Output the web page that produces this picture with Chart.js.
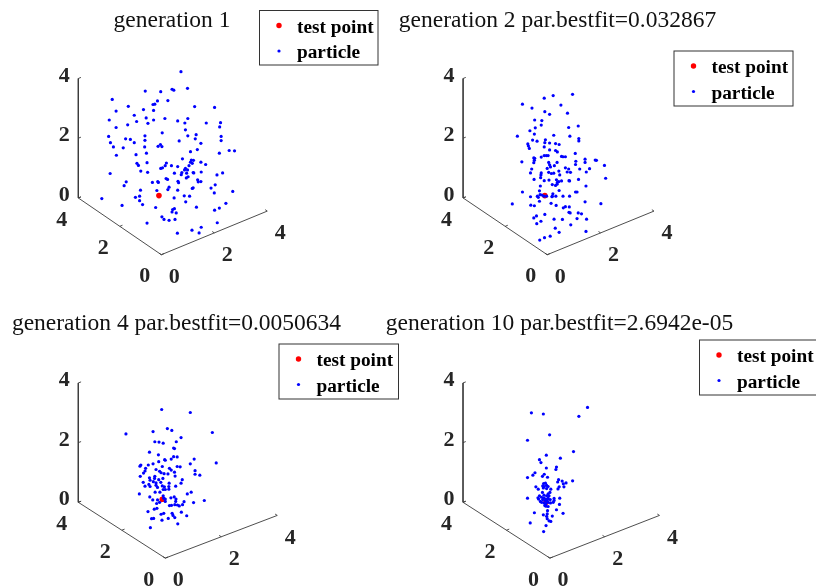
<!DOCTYPE html>
<html>
<head>
<meta charset="utf-8">
<title>particle generations</title>
<script src="https://cdn.jsdelivr.net/npm/chart.js@4"></script>
<style>
    html, body { margin: 0; padding: 0; background: #fff; width: 816px; height: 586px; overflow: hidden; }
    canvas { position: absolute; }
    #wrap { position: relative; width: 816px; height: 586px; overflow: hidden; }
</style>
</head>
<body>
<div id="wrap">
    <canvas id="gen1"></canvas>
    <canvas id="gen2"></canvas>
    <canvas id="gen4"></canvas>
    <canvas id="gen10"></canvas>
</div>
<script>
// Titles and axis labels
const gen1Title = 'generation 1';
const gen2Title = 'generation 2 par.bestfit=0.032867';
const gen4Title = 'generation 4 par.bestfit=0.0050634';
const gen10Title = 'generation 10 par.bestfit=2.6942e-05';
const axisTicks = [0, 2, 4];
const legendLabels = ['test point', 'particle'];

// Points, in projected axis units:
// [across from the vertical axis, height above its foot]
const gen1Test = [[2.71, 0.08]];
const gen1Particles = [
    [3.45,4.23],[3.67,3.67],[3.15,3.64],[3.21,3.61],[2.25,3.58],[2.77,3.56],[1.14,3.30],[2.66,3.25],[3.01,3.26],[2.57,3.14],
    [2.51,3.13],[1.68,3.07],[3.91,3.06],[4.58,3.03],[1.27,2.91],[2.19,2.96],[2.53,2.93],[1.88,2.77],[2.28,2.68],[3.68,2.66],
    [1.04,2.61],[2.53,2.61],[2.91,2.66],[3.34,2.58],[1.96,2.56],[2.34,2.50],[3.58,2.51],[4.30,2.51],[4.78,2.52],[4.75,2.38],
    [1.66,2.45],[1.27,2.36],[3.60,2.28],[2.82,2.18],[3.96,2.12],[3.68,2.08],[3.93,1.98],[4.80,2.06],[4.80,1.92],[1.02,2.06],
    [2.24,2.08],[1.59,1.98],[1.75,1.96],[2.24,1.93],[1.88,1.85],[1.08,1.85],[3.39,1.91],[4.12,1.83],[2.68,1.73],[2.76,1.79],
    [2.81,1.72],[2.23,1.71],[1.18,1.71],[1.51,1.68],[4.00,1.62],[5.07,1.59],[5.25,1.58],[4.74,1.50],[2.29,1.50],[3.77,1.55],
    [1.28,1.43],[1.94,1.45],[3.50,1.31],[3.80,1.27],[3.87,1.26],[3.77,1.20],[3.83,1.16],[2.31,1.18],[1.97,1.16],[2.02,1.09],
    [4.12,1.20],[4.28,1.12],[2.96,1.17],[2.92,1.08],[2.83,1.01],[2.77,0.99],[3.13,1.08],[3.34,1.05],[3.72,1.08],[3.60,0.99],
    [3.67,0.94],[3.57,0.94],[2.10,0.90],[2.33,0.86],[1.07,0.82],[3.23,0.83],[3.48,0.85],[3.46,0.78],[3.64,0.83],[3.86,0.85],
    [3.88,0.84],[4.13,0.87],[4.85,0.84],[4.66,0.77],[3.69,0.71],[3.63,0.67],[2.95,0.65],[3.00,0.62],[4.01,0.61],[4.03,0.54],
    [4.12,0.55],[3.35,0.56],[3.37,0.51],[1.61,0.54],[2.49,0.52],[2.67,0.55],[2.69,0.52],[1.54,0.41],[4.60,0.44],[3.05,0.36],
    [3.01,0.28],[2.64,0.25],[3.86,0.34],[3.83,0.32],[4.46,0.33],[2.09,0.26],[3.34,0.26],[5.19,0.22],[4.57,0.17],[2.06,0.06],
    [1.92,0.02],[3.56,0.07],[3.74,0.06],[3.22,0.00],[0.79,-0.02],[2.06,-0.09],[3.61,-0.13],[2.16,-0.22],[4.96,-0.18],[1.47,-0.25],
    [2.60,-0.32],[3.97,-0.31],[4.74,-0.34],[4.58,-0.41],[3.23,-0.36],[3.17,-0.39],[3.15,-0.47],[3.29,-0.50],[2.81,-0.63],[2.88,-0.72],
    [3.05,-0.75],[3.25,-0.72],[2.31,-0.84],[4.67,-0.83],[4.13,-0.98],[3.82,-1.08],[4.06,-1.17],[3.33,-1.18]
];

const gen2Test = [[2.74, 0.08]];
const gen2Particles = [
    [3.67,3.47],[3.02,3.43],[2.72,3.34],[1.99,3.14],[3.28,3.11],[2.31,3.01],[2.74,2.89],[2.90,2.80],[3.50,2.84],[2.40,2.61],
    [2.64,2.59],[2.62,2.44],[3.86,2.41],[2.42,2.35],[3.54,2.36],[2.24,2.25],[2.39,2.14],[1.82,2.07],[3.04,2.10],[3.58,2.07],
    [3.88,1.99],[3.88,1.91],[2.33,1.94],[2.48,1.90],[2.76,1.95],[2.74,1.85],[2.90,1.84],[2.17,1.81],[2.19,1.74],[2.22,1.66],
    [2.72,1.71],[3.10,1.82],[3.22,1.79],[2.90,1.61],[3.10,1.59],[3.16,1.54],[3.76,1.49],[2.72,1.42],[2.79,1.42],[2.85,1.42],
    [2.62,1.37],[3.30,1.39],[3.35,1.38],[3.43,1.38],[2.37,1.34],[2.40,1.33],[2.39,1.26],[2.37,1.18],[1.97,1.21],[4.09,1.30],
    [4.09,1.19],[3.78,1.23],[3.77,1.12],[4.43,1.27],[4.47,1.26],[4.74,1.09],[2.87,1.19],[2.90,1.11],[3.15,1.19],[3.06,1.08],
    [2.93,1.04],[2.82,0.99],[3.43,1.01],[3.54,0.97],[3.60,0.86],[3.49,0.87],[2.30,0.97],[2.26,0.84],[2.62,0.84],[2.61,0.77],
    [2.87,0.86],[2.96,0.82],[3.04,0.83],[3.21,0.90],[3.24,0.77],[3.91,0.97],[4.13,0.87],[4.24,0.98],[2.60,0.68],[2.38,0.62],
    [2.72,0.58],[2.88,0.60],[3.13,0.61],[3.21,0.55],[3.30,0.57],[3.16,0.52],[3.55,0.58],[3.57,0.57],[3.87,0.62],[4.78,0.66],
    [2.99,0.45],[3.10,0.42],[3.15,0.46],[2.59,0.40],[2.56,0.24],[4.12,0.40],[3.22,0.25],[1.99,0.20],[2.26,0.04],[2.58,0.11],
    [2.64,0.10],[2.49,0.06],[2.52,0.02],[2.56,-0.11],[2.71,0.06],[2.80,0.06],[2.99,0.06],[3.01,0.14],[2.98,0.04],[3.11,0.06],
    [3.35,0.06],[3.57,0.06],[3.77,0.20],[3.82,0.20],[2.27,-0.24],[2.39,-0.26],[2.95,-0.18],[3.12,-0.25],[1.65,-0.20],[4.09,-0.13],
    [4.62,-0.19],[3.43,-0.29],[3.36,-0.33],[3.56,-0.30],[3.55,-0.48],[3.59,-0.50],[3.86,-0.50],[3.97,-0.53],[2.74,-0.55],[2.37,-0.67],
    [2.46,-0.60],[2.61,-0.78],[2.47,-0.86],[3.05,-0.71],[3.33,-0.72],[3.82,-0.69],[4.14,-0.71],[3.61,-0.90],[3.09,-1.01],[3.22,-1.15],
    [4.12,-1.12],[2.92,-1.28],[2.73,-1.33],[2.57,-1.41]
];

const gen4Test = [[2.82, 0.10]];
const gen4Particles = [
    [2.80,3.11],[3.76,3.01],[4.50,2.34],[1.60,2.29],[2.99,2.47],[3.14,2.41],[2.51,2.37],[3.45,2.17],[3.29,2.03],[2.57,2.03],
    [2.71,2.02],[2.85,1.98],[3.20,1.82],[3.23,1.80],[2.39,1.68],[2.69,1.59],[3.20,1.53],[3.32,1.52],[3.12,1.45],[2.90,1.43],
    [2.92,1.41],[2.70,1.36],[3.89,1.45],[3.76,1.29],[4.63,1.32],[2.51,1.29],[2.35,1.25],[2.10,1.25],[2.07,1.21],[2.82,1.20],
    [3.32,1.20],[3.42,1.19],[3.06,1.14],[3.12,1.08],[2.26,1.14],[2.24,1.05],[2.61,1.10],[2.73,1.04],[2.78,0.99],[3.92,1.06],
    [3.92,0.94],[4.08,0.91],[2.19,0.98],[2.08,0.87],[2.57,0.87],[2.88,0.96],[3.01,0.95],[3.23,1.01],[3.25,0.88],[3.49,0.76],
    [2.39,0.82],[2.56,0.80],[2.41,0.74],[2.70,0.76],[2.84,0.80],[2.18,0.67],[2.52,0.69],[2.61,0.65],[2.77,0.67],[3.05,0.64],
    [3.45,0.64],[2.24,0.54],[2.37,0.60],[2.41,0.53],[2.61,0.57],[2.66,0.50],[2.82,0.55],[2.89,0.52],[3.04,0.53],[3.27,0.54],
    [2.85,0.43],[2.92,0.43],[3.04,0.44],[2.74,0.34],[2.58,0.34],[3.79,0.34],[3.66,0.28],[2.05,0.28],[2.40,0.18],[2.50,0.08],
    [2.66,0.08],[2.85,0.22],[2.87,0.14],[2.92,0.11],[2.92,0.03],[3.11,0.15],[3.22,0.18],[3.28,0.11],[3.27,0.03],[2.63,-0.04],
    [2.73,0.00],[3.87,-0.01],[4.23,0.06],[3.55,0.02],[3.50,-0.08],[3.06,-0.11],[3.13,-0.10],[3.24,-0.08],[3.33,-0.09],[3.39,-0.12],
    [2.64,-0.20],[2.55,-0.23],[2.34,-0.31],[2.78,-0.40],[2.87,-0.37],[3.15,-0.37],[3.18,-0.44],[3.46,-0.33],[3.64,-0.45],[3.24,-0.51],
    [3.02,-0.54],[2.81,-0.60],[2.53,-0.54],[2.46,-0.55],[3.34,-0.72],[2.42,-0.85]
];

const gen10Test = [[2.78, 0.00]];
const gen10Particles = [
    [4.17,3.18],[3.88,2.88],[2.29,3.00],[2.69,2.96],[2.90,2.26],[2.16,2.08],[3.70,1.70],[2.79,1.58],[3.26,1.48],[2.56,1.43],
    [2.61,1.33],[3.13,1.18],[3.11,1.10],[2.79,1.15],[2.41,0.99],[2.34,0.91],[2.16,0.83],[2.72,0.94],[2.66,0.87],[2.83,0.84],
    [3.20,0.76],[3.17,0.68],[3.32,0.71],[3.67,0.72],[3.45,0.65],[3.36,0.62],[3.38,0.52],[3.22,0.52],[3.18,0.45],[2.44,0.52],
    [2.52,0.44],[2.70,0.63],[2.76,0.64],[2.67,0.55],[2.72,0.53],[2.80,0.57],[2.85,0.53],[2.69,0.48],[2.80,0.46],[2.94,0.44],
    [2.91,0.33],[2.85,0.28],[2.80,0.22],[2.66,0.33],[2.71,0.24],[2.56,0.22],[2.51,0.15],[2.16,0.14],[2.53,0.11],[2.63,0.17],
    [2.71,0.14],[2.77,0.11],[2.85,0.14],[2.92,0.09],[3.05,0.13],[3.24,0.14],[2.59,0.03],[2.63,0.00],[2.71,-0.02],[2.77,-0.06],
    [2.85,0.00],[2.93,-0.02],[3.02,0.00],[3.05,0.06],[3.23,-0.07],[2.78,-0.13],[2.85,-0.14],[3.13,-0.25],[2.83,-0.28],[2.39,-0.35],
    [3.35,-0.37],[2.69,-0.42],[2.82,-0.39],[2.80,-0.47],[2.99,-0.46],[2.82,-0.55],[2.88,-0.62],[2.94,-0.64],[2.25,-0.69],[2.78,-0.78],
    [2.70,-0.98],[2.76,0.06],[2.80,0.02],[2.83,0.09],[2.88,0.22],[2.67,0.09],[2.74,-0.11]
];

// Projected corners of the floor for each panel (unit of height = 1 axis unit)
const gen1Corners = { front: [2.79, -1.90], right: [6.35, -0.44] };
const gen2Corners = { front: [2.82, -1.90], right: [6.40, -0.44] };
const gen4Corners = { front: [2.92, -1.87], right: [6.68, -0.44] };
const gen10Corners = { front: [2.91, -1.87], right: [6.58, -0.44] };

const axisMax = 4;
const pxPerUnit = 30.33;
const titleFont = 23.5;
const titlePad = { top: 7, bottom: 0 };

// 3D axis position to the projected plane
function project(corners, x, y, z) {
    const fx = corners.front[0], fy = corners.front[1];
    return {
        x: fx + x / axisMax * (corners.right[0] - fx) - y / axisMax * fx,
        y: fy + x / axisMax * (corners.right[1] - fy) - y / axisMax * fy + z
    };
}

function axisLines(corners) {
    const pts = [
        project(corners, 0, axisMax, axisMax),
        project(corners, 0, axisMax, 0),
        project(corners, 0, 0, 0),
        project(corners, axisMax, 0, 0),
        { x: NaN, y: NaN }
    ];
    const tickLen = 0.1;
    axisTicks.forEach(function(t) {
        pts.push(project(corners, 0, axisMax, t), project(corners, tickLen, axisMax, t), { x: NaN, y: NaN });
        pts.push(project(corners, t, 0, 0), project(corners, t, tickLen, 0), { x: NaN, y: NaN });
        pts.push(project(corners, 0, t, 0), project(corners, tickLen, t, 0), { x: NaN, y: NaN });
    });
    return pts;
}

function toPoints(rows) {
    return rows.map(function(r) { return { x: r[0], y: r[1] }; });
}

// Tick labels and the boxed legend
const panelDecor = {
    id: 'panelDecor',
    afterDraw: function(chart, args, opts) {
        const ctx = chart.ctx;
        const sx = chart.scales.x, sy = chart.scales.y;
        ctx.save();
        ctx.fillStyle = '#262626';
        ctx.font = 'bold 22px "Liberation Serif"';
        ctx.textAlign = 'center';
        ctx.textBaseline = 'middle';
        axisTicks.forEach(function(t) {
            const label = String(t);
            const z = project(opts.corners, 0, axisMax, t);
            ctx.fillText(label, sx.getPixelForValue(z.x) - 14, sy.getPixelForValue(z.y) - 2.5);
            const b = project(opts.corners, 0, t, 0);
            ctx.fillText(label, sx.getPixelForValue(b.x) - 16.5, sy.getPixelForValue(b.y) + 22);
            const a = project(opts.corners, t, 0, 0);
            ctx.fillText(label, sx.getPixelForValue(a.x) + 13, sy.getPixelForValue(a.y) + 22.5);
        });

        const box = opts.box;
        const ox = box.x - opts.left, oy = box.y - opts.top;
        ctx.strokeStyle = '#333';
        ctx.lineWidth = 1;
        ctx.fillStyle = '#fff';
        ctx.fillRect(ox, oy, box.w, box.h);
        ctx.strokeRect(ox, oy, box.w, box.h);
        ctx.font = 'bold 19.3px "Liberation Serif"';
        ctx.textAlign = 'left';
        ctx.textBaseline = 'alphabetic';
        chart.data.datasets.slice(0, 2).forEach(function(ds, i) {
            const rowY = oy + 15 + i * 25.5;
            ctx.fillStyle = ds.pointBackgroundColor;
            ctx.beginPath();
            ctx.arc(ox + 19.5, rowY, i === 0 ? 2.7 : 1.6, 0, Math.PI * 2);
            ctx.fill();
            ctx.fillStyle = '#000';
            ctx.fillText(ds.label, ox + 37.5, rowY + 7);
        });
        ctx.restore();
    }
};

function drawPanel(id, title, test, particles, corners, frame, foot, box) {
    const canvas = document.getElementById(id);
    canvas.width = frame.width;
    canvas.height = frame.height;
    canvas.style.left = frame.left + 'px';
    canvas.style.top = frame.top + 'px';
    canvas.style.width = frame.width + 'px';
    canvas.style.height = frame.height + 'px';

    // Scale ranges that put the foot of the vertical axis where it belongs
    const titleH = titleFont * 1.2 + titlePad.top + titlePad.bottom;
    const areaH = frame.height - titleH;
    const xMin = (frame.left - foot[0]) / pxPerUnit;
    const yMax = (foot[1] - frame.top - titleH) / pxPerUnit;

    new Chart(canvas.getContext('2d'), {
        type: 'scatter',
        data: {
            datasets: [
                { label: legendLabels[0], data: toPoints(test), pointBackgroundColor: '#ff0000', backgroundColor: '#ff0000',
                  pointRadius: 2.8, pointBorderWidth: 0, order: 3 },
                { label: legendLabels[1], data: toPoints(particles), pointBackgroundColor: '#0000ff', backgroundColor: '#0000ff',
                  pointRadius: 1.6, pointBorderWidth: 0, order: 2 },
                { label: 'axes', data: axisLines(corners), showLine: true, spanGaps: false, borderColor: '#3a3a3a',
                  borderWidth: 0.9, pointRadius: 0, order: 4 }
            ]
        },
        options: {
            responsive: false,
            animation: false,
            layout: { padding: 0 },
            scales: {
                x: { type: 'linear', display: false, min: xMin, max: xMin + frame.width / pxPerUnit },
                y: { type: 'linear', display: false, min: yMax - areaH / pxPerUnit, max: yMax }
            },
            plugins: {
                legend: { display: false },
                tooltip: { enabled: false },
                title: {
                    display: true,
                    text: title,
                    color: '#111',
                    font: { family: '"Liberation Serif"', size: titleFont, weight: 'normal', lineHeight: 1.2 },
                    padding: titlePad
                },
                panelDecor: { corners: corners, box: box, left: frame.left, top: frame.top }
            }
        },
        plugins: [panelDecor]
    });
}

drawPanel('gen1', gen1Title, gen1Test, gen1Particles, gen1Corners,
    { left: -40, top: 0, width: 424, height: 296 }, [76.5, 200.5], { x: 259.5, y: 10.5, w: 118.5, h: 54.5 });
drawPanel('gen2', gen2Title, gen2Test, gen2Particles, gen2Corners,
    { left: 317, top: 0, width: 481, height: 296 }, [461.5, 200.5], { x: 674, y: 51, w: 119, h: 55 });
drawPanel('gen4', gen4Title, gen4Test, gen4Particles, gen4Corners,
    { left: -48, top: 303, width: 449, height: 283 }, [76.5, 505], { x: 279, y: 344, w: 119.5, h: 55 });
drawPanel('gen10', gen10Title, gen10Test, gen10Particles, gen10Corners,
    { left: 303, top: 303, width: 513, height: 283 }, [461.5, 505], { x: 699.5, y: 340, w: 120, h: 55 });
</script>
</body>
</html>
